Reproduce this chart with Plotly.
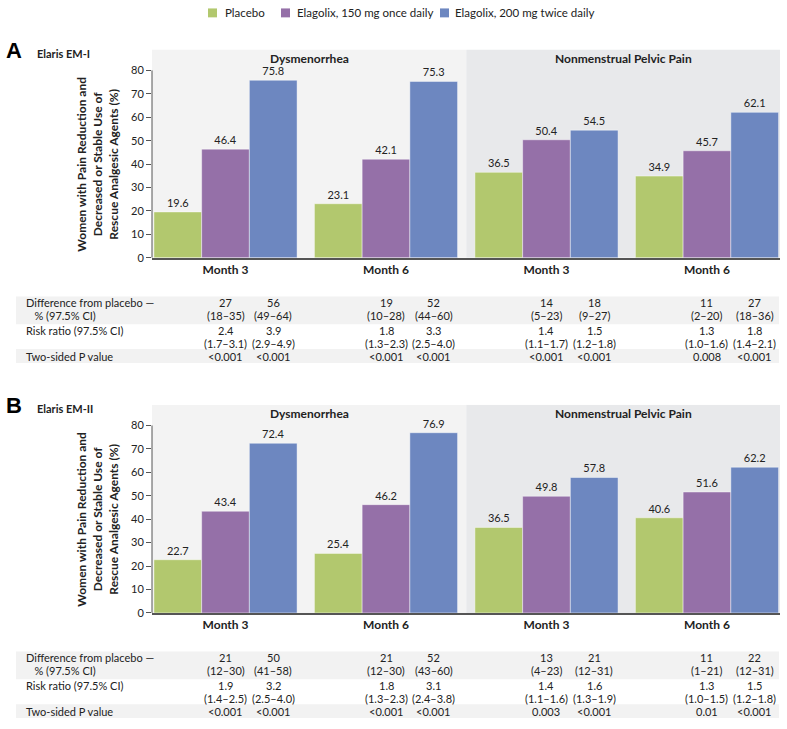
import plotly.graph_objects as go

# ---------------- data ----------------
categories = ["Month 3", "Month 6", "Month 3", "Month 6"]
series_names = ["Placebo", "Elagolix, 150 mg once daily", "Elagolix, 200 mg twice daily"]

a_placebo = [19.6, 23.1, 36.5, 34.9]
a_150 = [46.4, 42.1, 50.4, 45.7]
a_200 = [75.8, 75.3, 54.5, 62.1]

b_placebo = [22.7, 25.4, 36.5, 40.6]
b_150 = [43.4, 46.2, 49.8, 51.6]
b_200 = [72.4, 76.9, 57.8, 62.2]

yticks = [0, 10, 20, 30, 40, 50, 60, 70, 80]

# table A
a_diff_150 = ["27", "19", "14", "11"]
a_diff_150_ci = ["(18–35)", "(10–28)", "(5–23)", "(2–20)"]
a_diff_200 = ["56", "52", "18", "27"]
a_diff_200_ci = ["(49–64)", "(44–60)", "(9–27)", "(18–36)"]
a_rr_150 = ["2.4", "1.8", "1.4", "1.3"]
a_rr_150_ci = ["(1.7–3.1)", "(1.3–2.3)", "(1.1–1.7)", "(1.0–1.6)"]
a_rr_200 = ["3.9", "3.3", "1.5", "1.8"]
a_rr_200_ci = ["(2.9–4.9)", "(2.5–4.0)", "(1.2–1.8)", "(1.4–2.1)"]
a_p_150 = ["<0.001", "<0.001", "<0.001", "0.008"]
a_p_200 = ["<0.001", "<0.001", "<0.001", "<0.001"]

# table B
b_diff_150 = ["21", "21", "13", "11"]
b_diff_150_ci = ["(12–30)", "(12–30)", "(4–23)", "(1–21)"]
b_diff_200 = ["50", "52", "21", "22"]
b_diff_200_ci = ["(41–58)", "(43–60)", "(12–31)", "(12–31)"]
b_rr_150 = ["1.9", "1.8", "1.4", "1.3"]
b_rr_150_ci = ["(1.4–2.5)", "(1.3–2.3)", "(1.1–1.6)", "(1.0–1.5)"]
b_rr_200 = ["3.2", "3.1", "1.6", "1.5"]
b_rr_200_ci = ["(2.5–4.0)", "(2.4–3.8)", "(1.3–1.9)", "(1.2–1.8)"]
b_p_150 = ["<0.001", "<0.001", "0.003", "0.01"]
b_p_200 = ["<0.001", "<0.001", "<0.001", "<0.001"]

row_labels = ["Difference from placebo —", "   % (97.5% CI)", "Risk ratio (97.5% CI)", "Two-sided P value"]
panel_titles = ["Dysmenorrhea", "Nonmenstrual Pelvic Pain"]
y_title = "Women with Pain Reduction and<br>Decreased or Stable Use of<br>Rescue Analgesic Agents (%)"

# ---------------- style ----------------
W, H = 787, 729
FONT = "Lato, sans-serif"
colors = ["#b2c86e", "#9570a8", "#6d87c0"]
TXT = "#222222"
BAR_W = 0.2973
XR = [-0.458, 3.455]
YMAX = 80 * 210 / 189.0
legend_marker_px = [208, 281, 440]
legend_text_px = [223, 295, 453]


def fx(px):
    return px / W


def fy(py):
    return 1 - py / H


xpos = list(range(len(categories)))

fig = go.Figure()

panels = [
    dict(vals=[a_placebo, a_150, a_200], xa="x", ya="y", top=50, base=260, letter="A", name="Elaris EM-I",
         tbl=[(a_diff_150, a_diff_150_ci, a_diff_200, a_diff_200_ci),
              (a_rr_150, a_rr_150_ci, a_rr_200, a_rr_200_ci),
              (a_p_150, a_p_200)]),
    dict(vals=[b_placebo, b_150, b_200], xa="x2", ya="y2", top=408, base=618, letter="B", name="Elaris EM-II",
         tbl=[(b_diff_150, b_diff_150_ci, b_diff_200, b_diff_200_ci),
              (b_rr_150, b_rr_150_ci, b_rr_200, b_rr_200_ci),
              (b_p_150, b_p_200)]),
]

shapes = []
annotations = []

# legend (drawn manually for compact spacing)
for si, nm in enumerate(series_names):
    m = legend_marker_px[si]
    shapes.append(dict(type="rect", xref="paper", yref="paper", x0=fx(m), x1=fx(m + 9),
                       y0=fy(17.5), y1=fy(8.5), fillcolor=colors[si], line=dict(width=0)))
    annotations.append(dict(text=nm, xref="paper", yref="paper", x=fx(legend_text_px[si]), y=fy(13),
                            showarrow=False, xanchor="left", yanchor="middle",
                            font=dict(family=FONT, size=11.5, color=TXT)))

for pi, p in enumerate(panels):
    for si, (nm, vals) in enumerate(zip(series_names, p["vals"])):
        fig.add_trace(go.Bar(
            x=xpos, y=vals, name=nm, xaxis=p["xa"], yaxis=p["ya"],
            marker=dict(color=colors[si], line=dict(color="rgba(255,255,255,0.55)", width=0.8)),
            text=[f"{v:.1f}" for v in vals], textposition="outside", constraintext="none",
            textfont=dict(family=FONT, size=11, color=TXT), cliponaxis=False,
            showlegend=False, hoverinfo="skip",
        ))
    xref = p["xa"]
    yref = p["ya"]
    # background regions
    shapes.append(dict(type="rect", xref=xref, yref=yref, x0=XR[0], x1=1.5, y0=0, y1=YMAX,
                       fillcolor="#f3f3f3", line=dict(width=0), layer="below"))
    shapes.append(dict(type="rect", xref=xref, yref=yref, x0=1.5, x1=XR[1], y0=0, y1=YMAX,
                       fillcolor="#e8e9eb", line=dict(width=0), layer="below"))
    # y axis line 0..80
    shapes.append(dict(type="line", xref="paper", yref=yref, x0=fx(152), x1=fx(152), y0=0, y1=80,
                       line=dict(color="#555555", width=1)))
    # panel titles
    for ti, (t, cx) in enumerate(zip(panel_titles, [(152 + 466) / 2, (466 + 780) / 2])):
        annotations.append(dict(text=f"<b>{t}</b>", xref="paper", yref="paper", x=fx(cx), y=fy(p["top"] + 9),
                                showarrow=False, xanchor="center", yanchor="middle",
                                font=dict(family=FONT, size=12, color=TXT)))
    # letter & name
    annotations.append(dict(text=f"<b>{p['letter']}</b>", xref="paper", yref="paper", x=fx(4), y=fy(p["top"] + 1),
                            showarrow=False, xanchor="left", yanchor="middle",
                            font=dict(family="Liberation Sans, Arial, sans-serif", size=22, color="#000")))
    annotations.append(dict(text=f"<b>{p['name']}</b>", xref="paper", yref="paper", x=fx(35), y=fy(p["top"] + 4),
                            showarrow=False, xanchor="left", yanchor="middle",
                            font=dict(family=FONT, size=11, color=TXT)))
    # y title
    annotations.append(dict(text=f"<b>{y_title}</b>", xref="paper", yref="paper", x=fx(97),
                            y=fy(p["base"] - 94), showarrow=False, textangle=-90,
                            xanchor="center", yanchor="middle",
                            font=dict(family=FONT, size=12, color=TXT)))
    # table bands
    b0 = p["base"]
    shapes.append(dict(type="rect", xref="paper", yref="paper", x0=fx(16), x1=fx(779),
                       y0=fy(b0 + 39), y1=fy(b0 + 67), fillcolor="#f2f2f2", line=dict(width=0), layer="below"))
    shapes.append(dict(type="rect", xref="paper", yref="paper", x0=fx(16), x1=fx(779),
                       y0=fy(b0 + 92), y1=fy(b0 + 106), fillcolor="#f2f2f2", line=dict(width=0), layer="below"))
    # row labels
    for lab, dy in zip(row_labels, [45, 58, 73, 99]):
        annotations.append(dict(text=lab.replace("   ", "&nbsp;&nbsp;&nbsp;"), xref="paper", yref="paper",
                                x=fx(24), y=fy(b0 + dy), showarrow=False, xanchor="left", yanchor="middle",
                                font=dict(family=FONT, size=11, color=TXT)))
    # table values
    (d150, d150c, d200, d200c), (r150, r150c, r200, r200c), (p150, p200) = p["tbl"]
    for gi in range(len(categories)):
        c150 = xpos[gi]
        c200 = xpos[gi] + BAR_W
        cells = [
            (c150, 45, d150[gi]), (c150, 58, d150c[gi]), (c200, 45, d200[gi]), (c200, 58, d200c[gi]),
            (c150, 73, r150[gi]), (c150, 86, r150c[gi]), (c200, 73, r200[gi]), (c200, 86, r200c[gi]),
            (c150, 99, p150[gi]), (c200, 99, p200[gi]),
        ]
        for cx, dy, t in cells:
            annotations.append(dict(text=t.replace("<", "&lt;"), xref=xref, yref="paper", x=cx, y=fy(b0 + dy),
                                    showarrow=False, xanchor="center", yanchor="middle",
                                    font=dict(family=FONT, size=11, color=TXT)))


def xaxis_def():
    return dict(domain=[fx(152), fx(780)], range=XR, tickvals=xpos,
                ticktext=[f"<b>{c}</b>" for c in categories], showgrid=False, zeroline=False,
                showline=True, linecolor="#555555", linewidth=1.5, ticks="",
                tickfont=dict(family=FONT, size=12, color=TXT), fixedrange=True)


def yaxis_def(top, base, anchor):
    return dict(domain=[fy(base), fy(top)], range=[0, YMAX], tickvals=yticks, showgrid=False,
                zeroline=False, showline=False, ticks="outside", ticklen=5, tickcolor="#555555",
                tickfont=dict(family=FONT, size=11, color=TXT), anchor=anchor, fixedrange=True)


fig.update_layout(
    width=W, height=H, margin=dict(l=0, r=0, t=0, b=0),
    paper_bgcolor="white", plot_bgcolor="rgba(0,0,0,0)",
    barmode="group", bargap=0.108, bargroupgap=0,
    font=dict(family=FONT, color=TXT),
    showlegend=False,
    xaxis=dict(**xaxis_def(), anchor="y"),
    yaxis=yaxis_def(50, 260, "x"),
    xaxis2=dict(**xaxis_def(), anchor="y2"),
    yaxis2=yaxis_def(408, 618, "x2"),
    shapes=shapes, annotations=annotations,
)

fig.write_html("out.html", config={"displayModeBar": False},
               post_script="document.body.style.margin='0';document.body.style.overflow='hidden';")
